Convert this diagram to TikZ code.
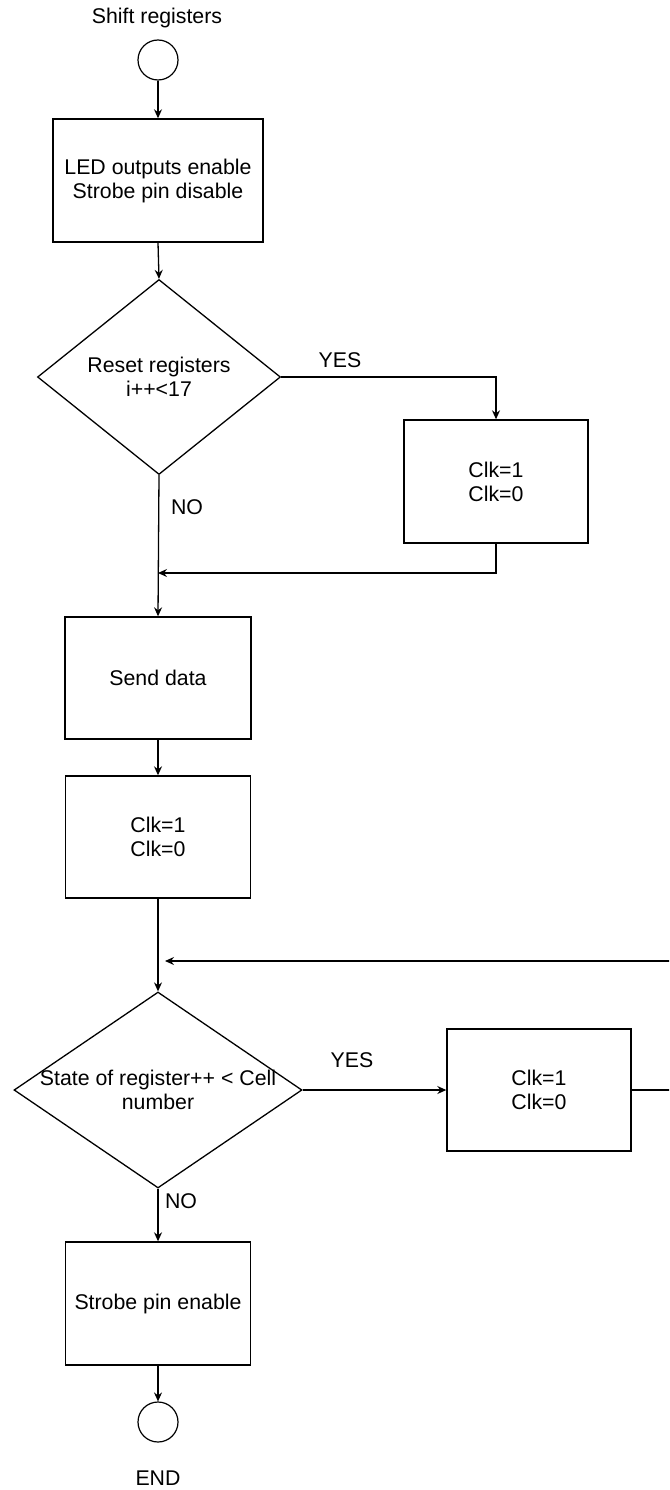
\documentclass[tikz,border=0pt]{standalone}
\usepackage{fontspec}
\setmainfont{Liberation Sans}
\usetikzlibrary{shapes.geometric,arrows.meta}
\begin{document}
\begin{tikzpicture}[x=1pt,y=-1pt,
  every node/.style={font=\fontsize{21.3}{24}\selectfont},
  box/.style={draw,line width=1.4pt,rectangle,inner sep=0pt,align=center},
  decision/.style={draw,line width=1.3pt,diamond,inner sep=0pt},
  term/.style={draw,line width=1.2pt,circle,minimum size=40pt,inner sep=0pt},
  conn/.style={line width=1.3pt},
  arr/.style={conn,-{Stealth[length=9pt,width=8pt,inset=3pt]}},
  lbl/.style={inner sep=0pt}]
\clip (0,0) rectangle (669,1490);
\fill[white] (0,0) rectangle (669,1490);

\node[lbl] (tstart) at (157,18) {Shift registers};
\node[term] (start) at (158,60) {};
\node[box,minimum width=210pt,minimum height=123pt] (b1) at (158,180.5) {LED outputs enable\\Strobe pin disable};
\node[decision,minimum width=243pt,minimum height=195pt,
  label={[align=center,font=\fontsize{21.3}{24}\selectfont]center:Reset registers\\i++<17}] (d1) at (159,377) {};
\node[box,minimum width=184pt,minimum height=123pt] (b2) at (496,481.5) {Clk=1\\Clk=0};
\node[box,minimum width=186pt,minimum height=122pt] (b3) at (158,678) {Send data};
\node[box,minimum width=185pt,minimum height=122pt] (b4) at (158,837) {Clk=1\\Clk=0};
\node[decision,minimum width=288pt,minimum height=196pt,
  label={[align=center,font=\fontsize{21.3}{24}\selectfont]center:State of register++ < Cell\\number}] (d2) at (158,1090) {};
\node[box,minimum width=184pt,minimum height=122pt] (b5) at (539,1090) {Clk=1\\Clk=0};
\node[box,minimum width=185pt,minimum height=123pt] (b6) at (158,1303.5) {Strobe pin enable};
\node[term] (end) at (158,1422) {};
\node[lbl] (tend) at (158,1478) {END};

\node[lbl] (yes1) at (340,360) {YES};
\node[lbl] (no1) at (187,507) {NO};
\node[lbl] (yes2) at (352,1060) {YES};
\node[lbl] (no2) at (181,1201) {NO};

\coordinate (c1) at (496,377);
\coordinate (j1) at (158,573);
\coordinate (c2) at (496,573);
\coordinate (c3) at (675,1090);
\coordinate (c4) at (675,961);
\coordinate (j2) at (165,961);

\draw[arr] (start.south) -- (b1.north);
\draw[arr] (b1.south) -- (d1.north);
\draw[arr] (d1.east) -- (c1) -- (b2.north);
\draw[arr] (d1.south) -- (b3.north);
\draw[arr] (b2.south) -- (c2) -- (j1);
\draw[arr] (b3.south) -- (b4.north);
\draw[arr] (b4.south) -- (d2.north);
\draw[arr] (d2.east) -- (b5.west);
\draw[arr] (b5.east) -- (c3) -- (c4) -- (j2);
\draw[arr] (d2.south) -- (b6.north);
\draw[arr] (b6.south) -- (end.north);
\end{tikzpicture}
\end{document}
